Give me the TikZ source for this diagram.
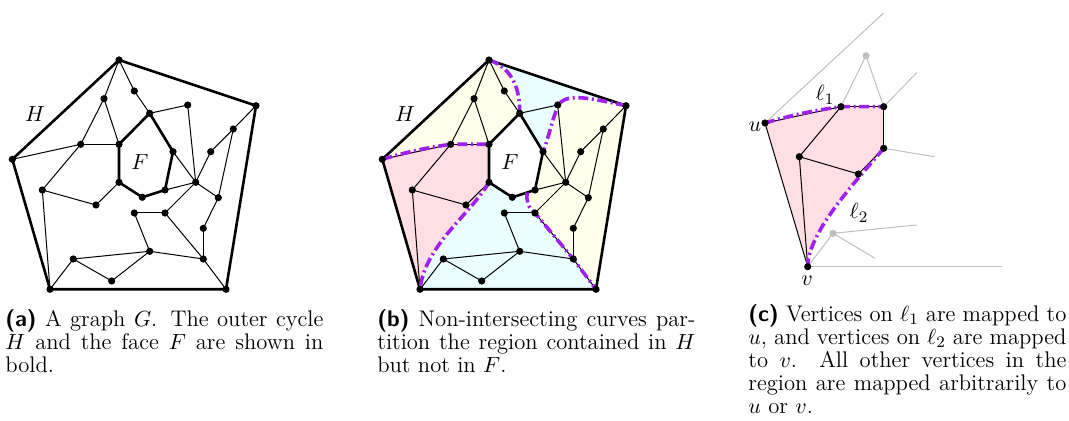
\documentclass[tikz,border=0pt]{standalone}
\usepackage{amsmath}
\usepackage{amssymb}
\usepackage{tikz}
\usetikzlibrary{calc}

\definecolor{curvecol}{RGB}{160,32,240}
\definecolor{pinkfill}{RGB}{255,222,228}
\definecolor{yellowfill}{RGB}{255,255,236}
\definecolor{cyanfill}{RGB}{234,255,255}

\tikzset{
  dot/.style={circle, fill=black, inner sep=0pt, minimum size=3.6pt},
  greydot/.style={dot, fill=black!25},
  edge/.style={line width=0.5pt},
  boldedge/.style={line width=1.3pt},
  greyedge/.style={black!25, line width=0.5pt},
  curve/.style={curvecol, line width=1.8pt, dash pattern=on 5pt off 1.8pt on 1pt off 1.8pt},
  lbl/.style={inner sep=0pt, font=\fontsize{10.8pt}{11.4pt}\selectfont},
  capt/.style={anchor=north west, inner sep=0pt, text width=159pt, align=justify,
    font=\fontsize{11.3pt}{11.5pt}\selectfont},
}

% vertices of the graph G
\newcommand{\graphcoords}[1]{%
  \foreach \n/\x/\y in {1/119/60, 2/256/105.7, 3/12.3/159.3, 4/50/289.3, 5/226/289.3,
      6/134.3/91, 7/104/98.7, 8/149.7/113.3, 9/187.7/105, 10/233.3/129,
      11/80.7/144.3, 12/119/144.3, 13/173/151.7, 14/210.7/151.7, 15/42.3/190,
      16/119/182.3, 17/165/190, 18/142.3/197.3, 19/195.7/182.3, 20/218.3/197.7,
      21/96/205, 22/134.3/213, 23/165/213, 24/203.3/228.3, 25/149.7/251.3,
      26/73.3/259, 27/203.3/259, 28/111.7/281}
    \coordinate (#1\n) at (\x,\y);}

% edges of G, outer cycle H and face F in bold
\newcommand{\graphedges}[1]{%
  \foreach \s/\t in {1/6, 6/8, 1/7, 7/11, 7/12, 11/12, 11/3, 11/15, 8/9, 9/19,
      2/10, 10/14, 14/19, 10/20, 13/19, 17/19, 19/20, 20/24, 24/27, 19/23,
      23/22, 23/27, 15/21, 21/16, 15/4, 22/25, 25/26, 25/27, 26/4, 26/28,
      28/25, 27/5}
    \draw[edge] (#1\s) -- (#1\t);
  \draw[boldedge, line join=round] (#11) -- (#12) -- (#15) -- (#14) -- (#13) -- cycle;
  \draw[boldedge, line join=round] (#112) -- (#18) -- (#113) -- (#117) -- (#118) -- (#116) -- cycle;}

\newcommand{\graphdots}[1]{%
  \foreach \n in {1,...,28}
    \node[dot] (#1\n-dot) at (#1\n) {};}

\begin{document}
\begin{tikzpicture}[x=0.5pt, y=-0.5pt]
  \useasboundingbox (0,0) rectangle (1069,421);

  % (a) the graph G
  \graphcoords{a}
  \graphedges{a}
  \graphdots{a}
  \node[lbl] (aH) at (35,114) {$H$};
  \node[lbl] (aF) at (140,161.7) {$F$};

  % (b) the partition by curves
  \begin{scope}[xshift=185pt]
    \graphcoords{b}
    \coordinate (bs) at ($(b18)!0.65!(b17)$);
    % Regions
    \fill[yellowfill] (b3) -- (b1) .. controls (142,68) and (150,88) .. (b8)
      -- (b12) -- (b11) to[bend right=4] (b3);
    \fill[pinkfill] (b3) to[bend left=4] (b11) -- (b12) -- (b16)
      .. controls (100,215) and (55,245) .. (b4) -- cycle;
    \fill[cyanfill] (b1) -- (b2) .. controls (215,97) and (195,93) .. (188,106)
      .. controls (182,120) and (178,140) .. (b13) -- (b8)
      .. controls (150,88) and (142,68) .. (b1);
    \fill[yellowfill] (b2) .. controls (215,97) and (195,93) .. (188,106)
      .. controls (182,120) and (178,140) .. (b13) -- (b17) -- (bs)
      .. controls (156,200) and (158,208) .. (b23) -- (b27) -- (b5) -- cycle;
    \fill[cyanfill] (bs) .. controls (156,200) and (158,208) .. (b23) -- (b27)
      -- (b5) -- (b4) .. controls (55,245) and (100,215) .. (b16) -- (b18) -- cycle;
    \graphedges{b}
    % Curves
    \draw[curve] (b3) to[bend left=4] (b11) -- (b12);
    \draw[curve] (b1) .. controls (142,68) and (150,88) .. (b8);
    \draw[curve] (b2) .. controls (215,97) and (195,93) .. (188,106)
      .. controls (182,120) and (178,140) .. (b13);
    \draw[curve] (bs) .. controls (156,200) and (158,208) .. (b23) -- (b27) -- (b5);
    \draw[curve] (b16) .. controls (100,215) and (55,245) .. (b4);
    \graphdots{b}
    \node[lbl] (bH) at (35,114) {$H$};
    \node[lbl] (bF) at (140,161.7) {$F$};
  \end{scope}

  % (c) one region mapped to u and v
  \coordinate (cu) at (765,123);
  \coordinate (cv) at (807.7,266.7);
  \coordinate (ca) at (841,106.7);
  \coordinate (cb) at (883.7,106.7);
  \coordinate (cc) at (883.7,148.3);
  \coordinate (cd) at (858.3,174);
  \coordinate (ce) at (799.3,156.7);
  \coordinate (cg) at (866,55.7);
  \coordinate (ch) at (833,233.3);
  \coordinate (ce1) at (883.3,13.3);
  \coordinate (ce2) at (916.7,72.7);
  \coordinate (ce3) at (934.3,156.7);
  \coordinate (ce4) at (1001.7,266.7);
  \coordinate (ce5) at (916.7,225);
  \coordinate (ce6) at (875,258.3);
  \fill[pinkfill] (cu) to[bend left=4] (ca) -- (cb) -- (cc)
    .. controls (858.7,178.3) and (807.7,231.7) .. (cv) -- cycle;
  \foreach \s/\t in {cu/ce1, ca/cg, cg/cb, cb/ce2, cc/ce3, cv/ce4, cv/ch, ch/ce5, ch/ce6}
    \draw[greyedge] (\s) -- (\t);
  \foreach \s/\t in {cu/cv, cu/ca, ca/cb, cb/cc, cc/cd, cd/ce, ce/ca, ce/cv}
    \draw[edge] (\s) -- (\t);
  \draw[curve] (cu) to[bend left=4] (ca) -- (cb);
  \draw[curve] (cc) .. controls (858.7,178.3) and (807.7,231.7) .. (cv);
  \foreach \n in {cu, cv, ca, cb, cc, cd, ce}
    \node[dot] (\n-dot) at (\n) {};
  \foreach \n in {cg, ch}
    \node[greydot] (\n-dot) at (\n) {};
  \node[lbl] (lu) at (755,127) {$u$};
  \node[lbl] (lv) at (807,281) {$v$};
  \node[lbl] (l1) at (825,95) {$\ell_1$};
  \node[lbl] (l2) at (859,213) {$\ell_2$};

  % Captions
  \node[capt] (capa) at (5,309) {\textsf{\textbf{(a)}} A graph $G$. The outer cycle\linebreak
    $H$ and the face $F$ are shown in\linebreak bold.};
  \node[capt] (capb) at (377,309) {\textsf{\textbf{(b)}} Non-intersecting curves par-\linebreak
    tition the region contained in $H$\linebreak but not in $F$.};
  \node[capt] (capc) at (748,304) {\textsf{\textbf{(c)}} Vertices on $\ell_1$ are mapped to\linebreak
    $u$, and vertices on $\ell_2$ are mapped\linebreak to $v$. All other vertices in the\linebreak
    region are mapped arbitrarily to\linebreak $u$ or $v$.};
\end{tikzpicture}
\end{document}
